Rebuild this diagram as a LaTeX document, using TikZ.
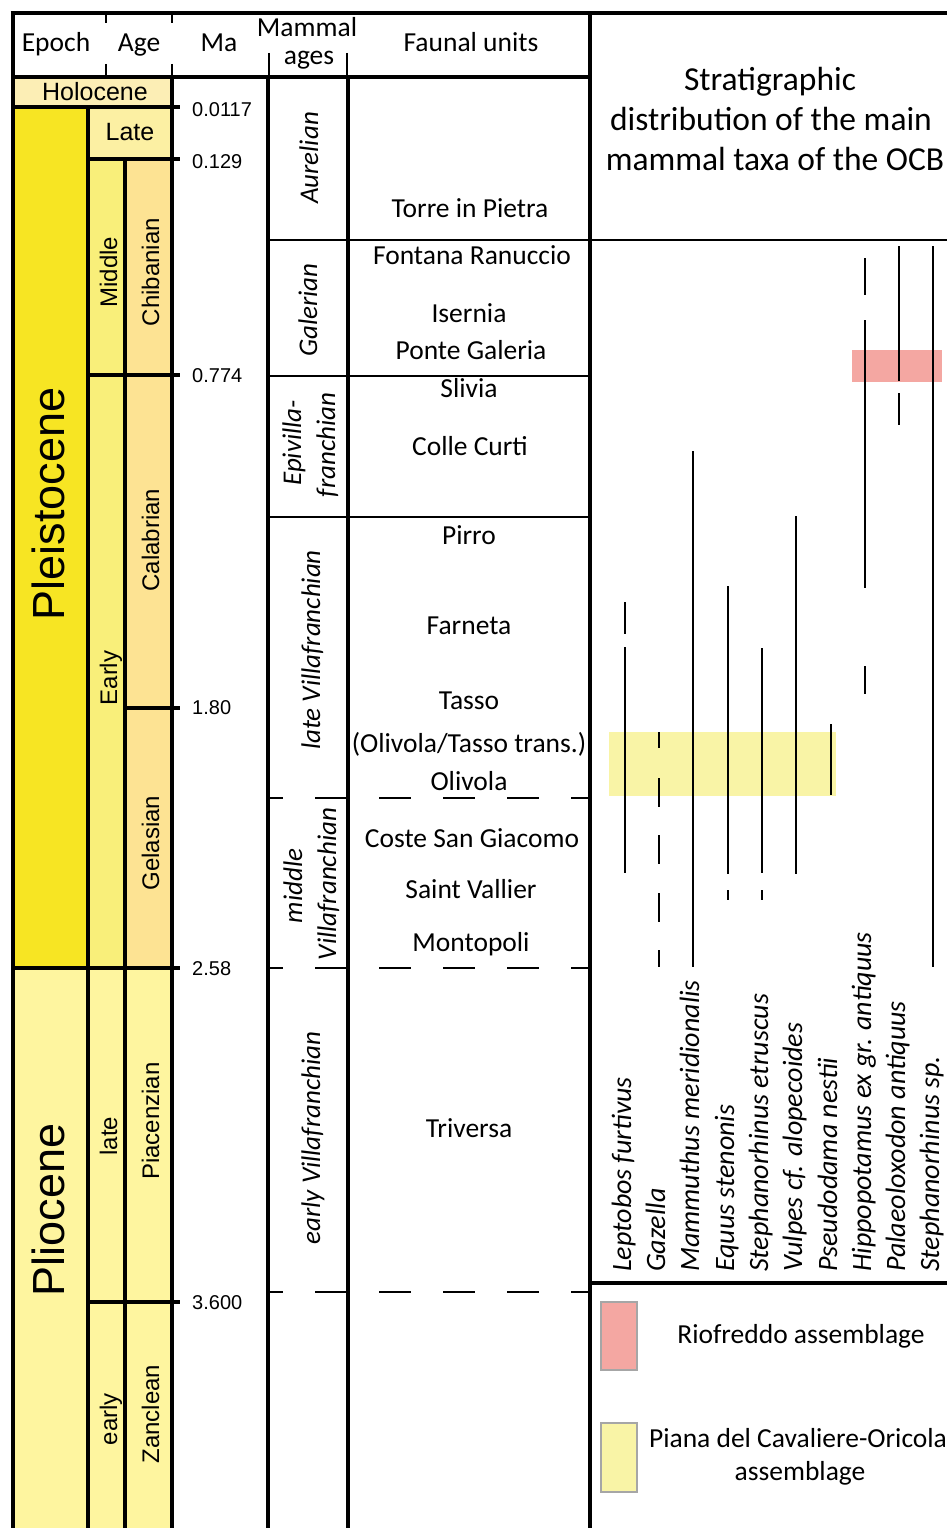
\documentclass[tikz,border=0pt]{standalone}
\usepackage{fontspec}
\setmainfont{Carlito}
\newfontfamily\arialf{Liberation Sans}
\definecolor{holo}{HTML}{FCEEB5}
\definecolor{pleist}{HTML}{F7E523}
\definecolor{latec}{HTML}{FCF0A3}
\definecolor{agepl}{HTML}{F9EF7A}
\definecolor{stagepl}{HTML}{FDE393}
\definecolor{plio}{HTML}{FEF59F}
\definecolor{riof}{HTML}{F4A7A2}
\definecolor{piana}{HTML}{F9F4A6}
\tikzset{
  thk/.style={line width=4.8pt},
  thn/.style={line width=2.2pt},
  dsh/.style={line width=2.2pt, dash pattern=on 32pt off 32pt, dash phase=17pt},
  taxline/.style={line width=2.2pt},
  cal/.style={font=\fontsize{27.5}{33}\selectfont, inner sep=0pt, anchor=base},
  calit/.style={font=\fontsize{27}{32}\selectfont\itshape, inner sep=0pt, anchor=base, rotate=90},
  taxon/.style={font=\fontsize{28}{33}\selectfont\itshape, inner sep=0pt, anchor=base west, rotate=90},
  ttl/.style={font=\fontsize{33.5}{40}\selectfont, inner sep=0pt, anchor=base},
  ari/.style={font=\arialf\fontsize{25}{29}\selectfont, inner sep=0pt, anchor=base},
  arirot/.style={font=\arialf\fontsize{24}{28}\selectfont, inner sep=0pt, anchor=base, rotate=90},
  epo/.style={font=\arialf\fontsize{45}{50}\selectfont, inner sep=0pt, anchor=base, rotate=90},
  num/.style={font=\arialf\fontsize{20}{24}\selectfont, inner sep=0pt, anchor=base west},
  legbox/.style={draw=gray!70, line width=1.5pt},
}
\begin{document}
\begin{tikzpicture}[x=1pt,y=-1pt]
\useasboundingbox (0,0) rectangle (947,1528);
\clip (0,0) rectangle (947,1528);
\fill[white] (0,0) rectangle (947,1528);
% fills of the time scale
\fill[holo] (13,77) rectangle (172,107);
\fill[pleist] (13,107) rectangle (88,968);
\fill[latec] (88,107) rectangle (172,159);
\fill[agepl] (88,159) rectangle (125,968);
\fill[stagepl] (125,159) rectangle (172,968);
\fill[plio] (13,968) rectangle (172,1528);
% assemblage bands
\fill[riof] (852,350) rectangle (942,382);
\fill[piana] (609,732) rectangle (836,796);
% frame lines
\draw[thk] (10.6,13) -- (947,13);
\draw[thk] (13,13) -- (13,1528);
\draw[thk] (13,77) -- (590,77);
\draw[thk] (590,13) -- (590,1528);
\draw[thk] (172,77) -- (172,1528);
\draw[thk] (268,77) -- (268,1528);
\draw[thk] (348,77) -- (348,1528);
\draw[thk] (88,107) -- (88,1528);
\draw[thk] (125,159) -- (125,1528);
\draw[thk] (13,107) -- (180,107);
\draw[thk] (88,159) -- (180,159);
\draw[thk] (88,375) -- (180,375);
\draw[thk] (125,708) -- (180,708);
\draw[thk] (13,968) -- (180,968);
\draw[thk] (88,1302) -- (180,1302);
\draw[thk] (590,1283) -- (947,1283);
% header ticks
\draw[thn] (106,13) -- (106,23) (106,64) -- (106,77);
\draw[thn] (172,13) -- (172,23) (172,64) -- (172,77);
\draw[thn] (269,53) -- (269,77) (347,53) -- (347,77);
% mammal-age boundaries
\draw[thn] (268,240) -- (947,240);
\draw[thn] (268,376) -- (590,376);
\draw[thn] (268,517) -- (590,517);
\draw[dsh] (268,798) -- (590,798);
\draw[dsh] (268,968) -- (590,968);
\draw[dsh] (268,1292) -- (590,1292);
% header texts
\node[cal] (hepoch) at (56,52) {Epoch};
\node[cal] (hage) at (139,52) {Age};
\node[cal] (hma) at (219,52) {Ma};
\node[cal] (hmam) at (307,37) {Mammal};
\node[cal] (hages) at (309,64) {ages};
\node[cal] (hfaun) at (471,52) {Faunal units};
% title
\node[ttl] (t1) at (770,90) {Stratigraphic};
\node[ttl] (t2) at (771,130) {distribution of the main};
\node[ttl] (t3) at (775,170) {mammal taxa of the OCB};
% time scale labels
\node[ari] (holocene) at (95,100) {Holocene};
\node[ari] (late) at (130,140) {Late};
\node[epo] (pleis) at (64,504) {Pleistocene};
\node[epo] (plioc) at (64,1210) {Pliocene};
\node[arirot] (middle) at (117,272) {Middle};
\node[arirot] (chib) at (159,272) {Chibanian};
\node[arirot] (early) at (117,678) {Early};
\node[arirot] (calab) at (159,540) {Calabrian};
\node[arirot] (gelas) at (159,843) {Gelasian};
\node[arirot] (latep) at (117,1136) {late};
\node[arirot] (piac) at (159,1121) {Piacenzian};
\node[arirot] (earlyp) at (117,1419) {early};
\node[arirot] (zancl) at (159,1414) {Zanclean};
% Ma numbers
\node[num] (m1) at (192,116) {0.0117};
\node[num] (m2) at (192,168) {0.129};
\node[num] (m3) at (192,382) {0.774};
\node[num] (m4) at (192,714) {1.80};
\node[num] (m5) at (192,975) {2.58};
\node[num] (m6) at (192,1309) {3.600};
% mammal ages
\node[calit] (aur) at (318,158) {Aurelian};
\node[calit] (gal) at (317,310) {Galerian};
\node[calit] (epi1) at (301,443) {Epivilla-};
\node[calit] (epi2) at (335,445) {franchian};
\node[calit] (lv) at (320,650) {late Villafranchian};
\node[calit] (mv1) at (302,886) {middle};
\node[calit] (mv2) at (336,884) {Villafranchian};
\node[calit] (ev) at (320,1138) {early Villafranchian};
% faunal units
\node[cal] (f1) at (470,217) {Torre in Pietra};
\node[cal] (f2) at (472,264) {Fontana Ranuccio};
\node[cal] (f3) at (469,322) {Isernia};
\node[cal] (f4) at (471,359) {Ponte Galeria};
\node[cal] (f5) at (469,397) {Slivia};
\node[cal] (f6) at (470,455) {Colle Curti};
\node[cal] (f7) at (469,544) {Pirro};
\node[cal] (f8) at (469,634) {Farneta};
\node[cal] (f9) at (469,709) {Tasso};
\node[cal] (f10) at (469,752) {(Olivola/Tasso trans.)};
\node[cal] (f11) at (469,790) {Olivola};
\node[cal] (f12) at (472,847) {Coste San Giacomo};
\node[cal] (f13) at (471,898) {Saint Vallier};
\node[cal] (f14) at (471,951) {Montopoli};
\node[cal] (f15) at (469,1137) {Triversa};
% taxon ranges
\draw[taxline] (625,602) -- (625,634) (625,647) -- (625,873);
\draw[taxline] (659,732) -- (659,748) (659,778) -- (659,807) (659,835) -- (659,864) (659,893) -- (659,922) (659,950) -- (659,967);
\draw[taxline] (693,451) -- (693,967);
\draw[taxline] (728,586) -- (728,874) (728,890) -- (728,900);
\draw[taxline] (762,648) -- (762,873) (762,890) -- (762,900);
\draw[taxline] (796,516) -- (796,874);
\draw[taxline] (831,724) -- (831,795);
\draw[taxline] (865,258) -- (865,295) (865,320) -- (865,588) (865,666) -- (865,694);
\draw[taxline] (899,246) -- (899,381) (899,393) -- (899,425);
\draw[taxline] (933,246) -- (933,967);
% taxon names
\node[taxon] (n1) at (631,1272) {Leptobos furtivus};
\node[taxon] (n2) at (665,1272) {Gazella};
\node[taxon] (n3) at (699,1272) {Mammuthus meridionalis};
\node[taxon] (n4) at (734,1272) {Equus stenonis};
\node[taxon] (n5) at (768,1272) {Stephanorhinus etruscus};
\node[taxon] (n6) at (802,1272) {Vulpes cf. alopecoides};
\node[taxon] (n7) at (837,1272) {Pseudodama nestii};
\node[taxon] (n8) at (871,1272) {Hippopotamus ex gr. antiquus};
\node[taxon] (n9) at (905,1272) {Palaeoloxodon antiquus};
\node[taxon] (n10) at (939,1272) {Stephanorhinus sp.};
% legend
\draw[legbox, fill=riof] (601,1302) rectangle (637,1370);
\draw[legbox, fill=piana] (601,1423) rectangle (637,1492);
\node[cal] (l1) at (801,1343) {Riofreddo assemblage};
\node[cal] (l2) at (798,1447) {Piana del Cavaliere-Oricola};
\node[cal] (l3) at (800,1480) {assemblage};
\end{tikzpicture}
\end{document}
